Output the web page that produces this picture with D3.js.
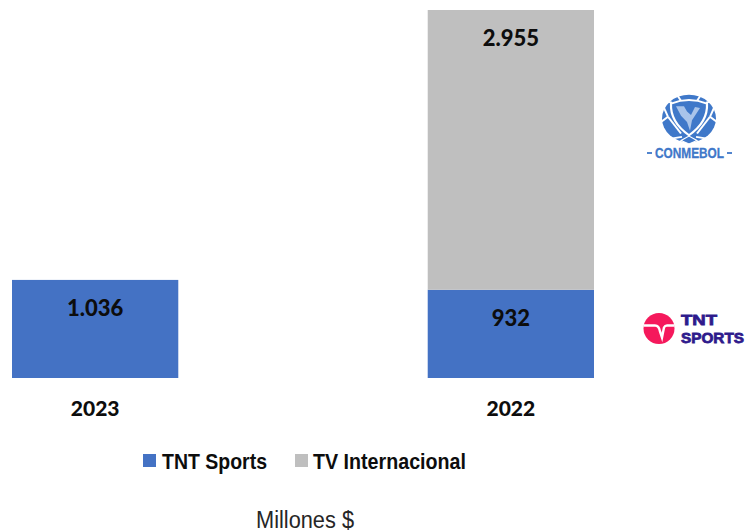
<!DOCTYPE html>
<html><head><meta charset="utf-8">
<script src="https://cdnjs.cloudflare.com/ajax/libs/d3/7.8.5/d3.min.js"></script>
<style>html,body{margin:0;padding:0;background:#fff}svg{display:block}</style></head>
<body><svg id="c" width="746" height="532"></svg>
<script>
const years = ["2023","2022"];
const seriesNames = ["TNT Sports","TV Internacional"];
const tntSports = [1036,932];
const tvInternacional = [0,2955];
const valueLabels = [["1.036","932"],["","2.955"]];
const seriesColors = ["#4472C4","#BFBFBF"];
const unitLabel = "Millones $";

const svg = d3.select("#c");
const x = d3.scaleBand().domain(years).range([12,594]).paddingInner(0.6).paddingOuter(0);
const y = d3.scaleLinear().domain([0,3887]).range([378,10]);
const rows = years.map((yr,i)=>({year:yr,"TNT Sports":tntSports[i],"TV Internacional":tvInternacional[i]}));
const stacked = d3.stack().keys(seriesNames)(rows);
const labelFont = "Lato, 'Open Sans', sans-serif";
const sans = "'Liberation Sans', Arial, sans-serif";

const groups = svg.selectAll("g.s").data(stacked).join("g").attr("class","s").attr("fill",(d,i)=>seriesColors[i]);
groups.selectAll("rect").data(d=>d.filter(p=>p[1]>p[0])).join("rect")
  .attr("x",d=>x(d.data.year)).attr("width",x.bandwidth())
  .attr("y",d=>y(d[1])).attr("height",d=>y(d[0])-y(d[1]));

stacked.forEach((s,si)=>{
  s.forEach((p,i)=>{
    if(!valueLabels[si][i]) return;
    svg.append("text").attr("x",x(years[i])+x.bandwidth()/2)
      .attr("y",y(p[1])+36)
      .attr("text-anchor","middle").attr("font-family",labelFont).attr("font-weight",900)
      .attr("font-size",22).attr("fill","#0d0d0d").text(valueLabels[si][i]);
  });
});

const axis = d3.axisBottom(x).tickSize(0).tickPadding(0);
const ax = svg.append("g").attr("transform","translate(0,378)").call(axis);
ax.select(".domain").remove();
ax.selectAll("text").attr("font-family",labelFont).attr("font-weight",900).attr("font-size",21)
  .attr("fill","#0d0d0d").attr("dy",null).attr("y",38);

// legend
const legendX = [143,295];
const legendTextX = [162,313];
const legendTextW = [105,153];
seriesNames.forEach((n,i)=>{
  svg.append("rect").attr("x",legendX[i]).attr("y",454).attr("width",13).attr("height",13).attr("fill",seriesColors[i]);
  svg.append("text").attr("x",legendTextX[i]).attr("y",468.5).attr("font-family",sans).attr("font-weight",700)
    .attr("font-size",22).attr("textLength",legendTextW[i]).attr("lengthAdjust","spacingAndGlyphs")
    .attr("fill","#0d0d0d").text(n);
});
svg.append("text").attr("x",256).attr("y",528).attr("font-family",sans)
  .attr("font-size",23).attr("textLength",98).attr("lengthAdjust","spacingAndGlyphs")
  .attr("fill","#262626").text(unitLabel);

// CONMEBOL logo
const blue="#3F78C9";
const cl = svg.append("g").attr("transform","translate(689,118.5) scale(1,0.88)");
cl.append("circle").attr("r",27).attr("fill",blue);
[[-17,-18,-24,-20],[17,-18,24,-20],[-8,-20,-12,-27],[8,-20,12,-27],[-25,-12,-21,-2],[25,-12,21,-2],[-21,-2,-28,4],[21,-2,28,4],[-21,-2,-8,17],[21,-2,8,17],[-18,23,-7,21],[18,23,7,21]].forEach(a=>{
  cl.append("line").attr("x1",a[0]).attr("y1",a[1]).attr("x2",a[2]).attr("y2",a[3]).attr("stroke","#fff").attr("stroke-width",2);
});
cl.append("path").attr("d","M-18,-17 Q0,-25 18,-17 Q19,4 0,19 Q-19,4 -18,-17Z").attr("fill",blue).attr("stroke","#fff").attr("stroke-width",2.2);
cl.append("path").attr("d","M-13,-14 L-5,-14 L-2,-8 L2,-4 L6,-13 L11,-12 L3,2 L1,14 L-2,4 L-8,-3Z").attr("fill","#a9c4ea");
cl.append("path").attr("d","M-8,25 L0,20 L8,25 L0,29Z").attr("fill",blue).attr("stroke","#fff").attr("stroke-width",1.2);
svg.append("text").attr("x",655).attr("y",158).attr("font-family",sans)
  .attr("font-weight",700).attr("font-size",14).attr("textLength",69).attr("lengthAdjust","spacingAndGlyphs")
  .attr("fill",blue).attr("stroke",blue).attr("stroke-width",.3).text("CONMEBOL");
svg.append("line").attr("x1",647).attr("x2",652).attr("y1",153).attr("y2",153).attr("stroke",blue).attr("stroke-width",1.8);
svg.append("line").attr("x1",727).attr("x2",732).attr("y1",153).attr("y2",153).attr("stroke",blue).attr("stroke-width",1.8);

// TNT logo
const pink="#F5195C", navy="#2E1A8C";
const tl = svg.append("g").attr("transform","translate(659,328.5)");
tl.append("circle").attr("r",15.5).attr("fill",pink);
tl.append("path").attr("d","M-15.5,-3 L-4,-3 Q0,-3 1,3 L3,9 L5,-1 Q6,-3 8,-3 L15.5,-3").attr("fill","none").attr("stroke","#fff").attr("stroke-width",2.4);
svg.append("text").attr("x",681).attr("y",325).attr("font-family",sans)
  .attr("font-weight",700).attr("font-size",15.5).attr("textLength",36).attr("lengthAdjust","spacingAndGlyphs")
  .attr("fill",navy).attr("stroke",navy).attr("stroke-width",.8).text("TNT");
svg.append("text").attr("x",681).attr("y",343).attr("font-family",sans)
  .attr("font-weight",700).attr("font-size",15.5).attr("textLength",63).attr("lengthAdjust","spacingAndGlyphs")
  .attr("fill",navy).attr("stroke",navy).attr("stroke-width",.8).text("SPORTS");
</script></body></html>
